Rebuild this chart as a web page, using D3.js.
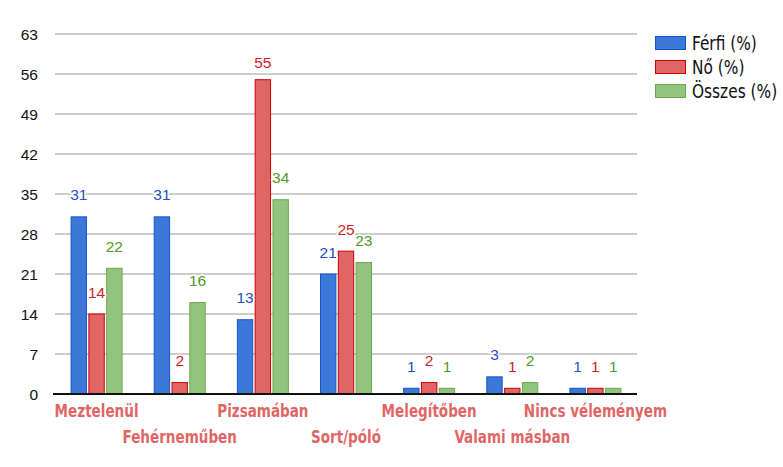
<!DOCTYPE html>
<html><head><meta charset="utf-8">
<script src="https://cdn.jsdelivr.net/npm/d3@7/dist/d3.min.js"></script>
<style>body{margin:0;background:#fff}</style>
</head><body>
<svg id="c" width="783" height="467"></svg>
<script>
const categories = ["Meztelenül","Fehérneműben","Pizsamában","Sort/póló","Melegítőben","Valami másban","Nincs véleményem"];
const seriesNames = ["Férfi (%)","Nő (%)","Összes (%)"];
const ferfi = [31,31,13,21,1,3,1];
const no = [14,2,55,25,2,1,1];
const osszes = [22,16,34,23,1,2,1];
const yTicks = [0,7,14,21,28,35,42,49,56,63];

const series = [ferfi,no,osszes];
const fills = ["#3c78d8","#e06666","#93c47d"];
const strokes = ["#1155cc","#cc0000","#6aa84f"];
const labelColors = ["#1c4fc9","#cc1f1f","#4e9a2a"];

const svg = d3.select("#c");
const L=55,R=637,T=34,B=394;
const y = d3.scaleLinear().domain([0,63]).range([B,T]);
const x0 = d3.scaleBand().domain(categories).range([L,R]).padding(0);
const groupW = 52;
const x1 = d3.scaleBand().domain(d3.range(3)).range([(x0.bandwidth()-groupW)/2,(x0.bandwidth()+groupW)/2]).paddingInner(0.08);

// gridlines
svg.append("g").selectAll("line").data(yTicks.filter(d=>d>0)).join("line")
  .attr("x1",L).attr("x2",R).attr("y1",d=>y(d)).attr("y2",d=>y(d))
  .attr("stroke","#bdbdbd").attr("stroke-width",1.3);
// y labels
svg.append("g").selectAll("text").data(yTicks).join("text")
  .attr("x",38).attr("y",d=>y(d)+5.5).attr("text-anchor","end")
  .attr("font-family","Liberation Sans, Arial, sans-serif").attr("font-size",15.5).attr("fill","#111")
  .text(d=>d);

// bars
const g = svg.append("g");
series.forEach((vals,si)=>{
  g.selectAll(".b"+si).data(vals).join("rect")
    .attr("x",(d,i)=>x0(categories[i])+x1(si)+0.5)
    .attr("y",d=>y(d))
    .attr("width",x1.bandwidth()-1)
    .attr("height",d=>B-y(d))
    .attr("fill",fills[si]).attr("stroke",strokes[si]).attr("stroke-width",1);
});
// axis baseline
svg.append("line").attr("x1",L-2).attr("x2",R).attr("y1",B).attr("y2",B).attr("stroke","#111").attr("stroke-width",2);

// value labels
series.forEach((vals,si)=>{
  g.selectAll(".l"+si).data(vals).join("text")
    .attr("x",(d,i)=>x0(categories[i])+x1(si)+x1.bandwidth()/2)
    .attr("y",d=>Math.max(y(d)-16.5,68))
    .attr("text-anchor","middle")
    .attr("font-family","Liberation Sans, Arial, sans-serif").attr("font-size",15.5)
    .attr("fill",labelColors[si])
    .attr("stroke","#fff").attr("stroke-width",3).attr("paint-order","stroke")
    .text(d=>d);
});

// category labels
svg.append("g").selectAll("text").data(categories).join("text")
  .attr("transform",(d,i)=>`translate(${x0(d)+x0.bandwidth()/2},${i%2===0 ? 417 : 443}) scale(0.86,1)`)
  .attr("text-anchor","middle")
  .attr("font-family","DejaVu Sans Condensed, Arial, sans-serif")
  .attr("font-weight","bold").attr("font-size",17.5).attr("fill","#e06666")
  .text(d=>d);

// legend
const lg = svg.append("g");
seriesNames.forEach((n,i)=>{
  const yy = 36 + i*24;
  lg.append("rect").attr("x",655.5).attr("y",yy+0.5).attr("width",30).attr("height",13)
    .attr("fill",fills[i]).attr("stroke",strokes[i]).attr("stroke-width",1);
  lg.append("text").attr("transform",`translate(692,${yy+14}) scale(0.9,1)`)
    .attr("font-family","DejaVu Sans Condensed, Arial, sans-serif")
    .attr("font-size",19).attr("fill","#111").text(n);
});
</script>
</body></html>
